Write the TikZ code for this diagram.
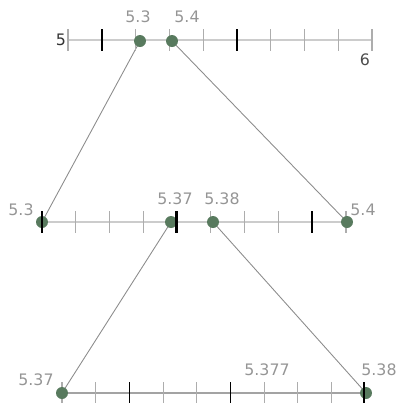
\documentclass[tikz,border=0pt]{standalone}
\usepackage{fontspec}
\setmainfont{DejaVu Sans}
\usepackage{tikz}
\usetikzlibrary{positioning,calc}
\usetikzlibrary{backgrounds}
\definecolor{dotgreen}{HTML}{587A5E}
\definecolor{axisgray}{HTML}{CCCCCC}
\definecolor{tickgray}{HTML}{ADADAD}
\definecolor{labelgray}{HTML}{959595}
\tikzset{
	axis/.style={draw=axisgray,line width=1.6pt},
	minortick/.style={draw=tickgray,line width=0.6pt},
	majortick/.style={draw=black,line width=0.9pt},
	dot/.style={circle,fill=dotgreen,inner sep=0pt,minimum size=0.24cm},
	lbl/.style={text=labelgray,font=\fontsize{9}{9}\selectfont,inner sep=0pt},
	zoomline/.style={draw=gray!90,line width=0.5pt},
}

\begin{document}
\begin{tikzpicture}[x=0.02cm,y=-0.02cm]
				\useasboundingbox (0,0) rectangle (396,403);
				
				% Top line (5 to 6)
				\draw[axis] (68,40) -- (372,40);
				\foreach \i in {0,2,3,4,6,7,8,9}
					\draw[minortick] ({68+\i*33.78},29) -- ({68+\i*33.78},51);
				\foreach \i in {1,5}
					\draw[majortick] ({68+\i*33.78},29) -- ({68+\i*33.78},51);
				\node[dot] (top3) at (140,41) {};
				\node[dot] (top4) at (172,41) {};
				\node[lbl,text=black!80] (lblfive) at (61,40) {5};
				\node[lbl,text=black!70] (lblsix) at (365,60) {6};
				\node[lbl] (lbltop3) at (138,17) {5.3};
				\node[lbl] (lbltop4) at (187,17) {5.4};
				
				% Middle line (5.3 to 5.4)
				\draw[axis] (42,222) -- (346,222);
				\foreach \i in {1,2,3,5,6,7,9}
					\draw[minortick] ({42+\i*33.78},211) -- ({42+\i*33.78},233);
				\foreach \i in {0,4,8}
					\draw[majortick] ({42+\i*33.78},211) -- ({42+\i*33.78},233);
				\node[dot] (mid3) at (42,222) {};
				\node[dot] (mid37) at (171,222) {};
				\node[dot] (mid38) at (213,222) {};
				\node[dot] (mid4) at (347,222) {};
				\draw[majortick] (176,211) -- (176,233);
				\draw[majortick] (42,211) -- (42,233);
				\node[lbl] (lblmid3) at (21,210) {5.3};
				\node[lbl] (lblmid37) at (175,199) {5.37};
				\node[lbl] (lblmid38) at (222,199) {5.38};
				\node[lbl] (lblmid4) at (363,210) {5.4};
				
				% Bottom line (5.37 to 5.38)
				\draw[axis,draw=axisgray!80!black] (62,393) -- (365,393);
				\foreach \i in {0,1,3,4,6,7,8}
					\draw[minortick] ({62+\i*33.7},382) -- ({62+\i*33.7},404);
				\foreach \i in {2,5}
					\draw[majortick] ({62+\i*33.7},382) -- ({62+\i*33.7},404);
				\node[dot] (bot37) at (62,393) {};
				\node[dot] (bot38) at (366,393) {};
				\draw[majortick] (364,382) -- (364,404);
				\node[lbl] (lblbot37) at (36,380) {5.37};
				\node[lbl] (lblbot377) at (267,370) {5.377};
				\node[lbl] (lblbot38) at (379,370) {5.38};
				
				% Draw connections
				\begin{scope}[on background layer]
					\draw[zoomline] (top3.center) -- (mid3.center);
					\draw[zoomline] (top4.center) -- (mid4.center);
					\draw[zoomline] (mid37.center) -- (bot37.center);
					\draw[zoomline] (mid38.center) -- (bot38.center);
				\end{scope}
			\end{tikzpicture}
\end{document}
